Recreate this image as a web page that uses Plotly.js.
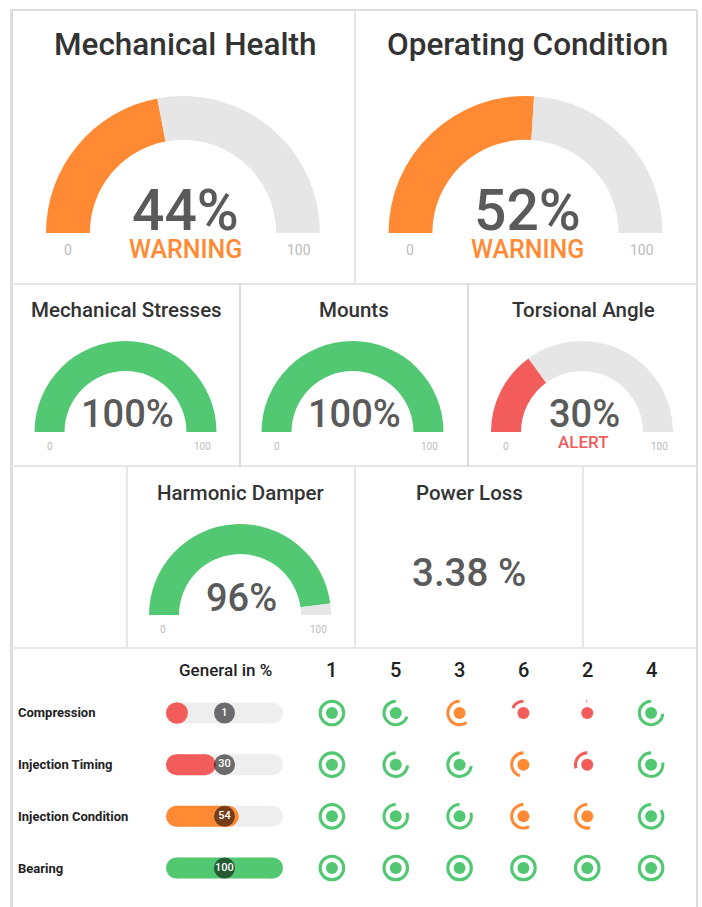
<!DOCTYPE html>
<html>
<head>
<meta charset="utf-8">
<script src="https://cdn.plot.ly/plotly-3.0.1.min.js"></script>
<style>html,body{margin:0;padding:0;background:#fff;}#chart{width:702px;height:907px;}</style>
</head>
<body>
<div id="chart"></div>
<script>
// ---------------- DATA ----------------
const bigTitles = ['Mechanical Health', 'Operating Condition'];
const bigValues = [44, 52];
const midTitles = ['Mechanical Stresses', 'Mounts', 'Torsional Angle'];
const midValues = [100, 100, 30];
const damperTitle = 'Harmonic Damper';
const damperValue = 96;
const powerLossTitle = 'Power Loss';
const powerLossValue = 3.38;

const rowLabels = ['Compression', 'Injection Timing', 'Injection Condition', 'Bearing'];
const generalPct = [1, 30, 54, 100];
const cylinders = ['1', '5', '3', '6', '2', '4'];
const compression = [100, 70, 60, 18, 1, 74];
const injectionTiming = [100, 74, 73, 45, 30, 78];
const injectionCondition = [100, 80, 80, 58, 54, 84];
const bearing = [100, 100, 100, 100, 100, 100];
const cylinderValues = [compression, injectionTiming, injectionCondition, bearing];

// ---------------- STYLE ----------------
const W = 702, H = 907;
const GREEN = '#52c872', ORANGE = '#ff8a33', RED = '#f25c5a', TRACK = '#e6e6e6';
const FONT = 'Roboto, "Open Sans", sans-serif';
const px = x => x / W;
const py = y => 1 - y / H;
function colorFor(v) { return v < 40 ? RED : (v < 65 ? ORANGE : GREEN); }
function statusFor(v) { return v < 40 ? 'ALERT' : (v < 65 ? 'WARNING' : ''); }

const traces = [];
const annotations = [];
function ann(text, x, y, size, color, weight) {
  annotations.push({
    text: text, x: px(x), y: py(y), xref: 'paper', yref: 'paper', showarrow: false,
    xanchor: 'center', yanchor: 'middle', borderpad: 0,
    font: {family: FONT, size: size, color: color, weight: weight || 500}
  });
}

function gauge(cx, cy, R, hole, v) {
  traces.push({
    type: 'pie', values: [v, 100 - v, 100], sort: false, direction: 'clockwise', rotation: 270,
    hole: hole, textinfo: 'none', hoverinfo: 'skip', showlegend: false,
    marker: {colors: [colorFor(v), TRACK, 'rgba(0,0,0,0)'], line: {width: 0}},
    domain: {x: [px(cx - R), px(cx + R)], y: [py(cy + R), py(cy - R)]}
  });
}

// Row 1 big gauges
const bigCx = [183, 525.5];
bigValues.forEach((v, i) => {
  const cx = bigCx[i], cy = 233, R = 137;
  gauge(cx, cy, R, 0.68, v);
  ann(bigTitles[i], cx + 2, 45, 31.5, '#333333');
  ann(v + '%', cx + 2, 210, 57, '#5a5a5a');
  ann(statusFor(v), cx + 2, 249, 25, colorFor(v));
  ann('0', cx - 115, 250, 14, '#bbbbbb', 400);
  ann('100', cx + 116, 250, 14, '#bbbbbb', 400);
});

// Row 2 gauges
const midCx = [125.5, 352.5, 582];
midValues.forEach((v, i) => {
  const cx = midCx[i], cy = 432, R = 91;
  gauge(cx, cy, R, 0.67, v);
  ann(midTitles[i], cx + 1, 310, 20.5, '#333333');
  ann(v + '%', cx + 2, 414, 38, '#5a5a5a');
  if (statusFor(v)) ann(statusFor(v), cx + 1, 442, 17, colorFor(v));
  ann('0', cx - 76, 446, 10, '#bbbbbb', 400);
  ann('100', cx + 77, 446, 10, '#bbbbbb', 400);
});

// Row 3 gauge + number
(function () {
  const cx = 240, cy = 615, R = 91;
  gauge(cx, cy, R, 0.67, damperValue);
  ann(damperTitle, cx, 493, 20.5, '#333333');
  ann(damperValue + '%', cx + 1, 598, 38, '#5a5a5a');
  ann('0', cx - 77, 629, 10, '#bbbbbb', 400);
  ann('100', cx + 78, 629, 10, '#bbbbbb', 400);
  ann(powerLossTitle, 469, 493, 20.5, '#333333');
  ann(powerLossValue.toFixed(2) + ' %', 469, 572, 38.5, '#5a5a5a');
})();

// ---------------- TABLE ----------------
const colX0 = 300, colX1 = 683, rowY0 = 687.15, rowY1 = 893.85;
const nCol = cylinders.length, nRow = rowLabels.length;

// progress track
const trackX = [], trackY = [];
rowLabels.forEach(r => { trackX.push(0, 100, null); trackY.push(r, r, null); });
traces.push({type: 'scatter', mode: 'lines+markers', x: trackX, y: trackY, xaxis: 'x', yaxis: 'y',
  line: {color: '#eeeeee', width: 21}, marker: {color: '#eeeeee', size: 21},
  hoverinfo: 'skip', showlegend: false, cliponaxis: false});
// progress fill
rowLabels.forEach((r, i) => {
  traces.push({type: 'scatter', mode: 'lines+markers', x: [0, generalPct[i]], y: [r, r], xaxis: 'x', yaxis: 'y',
    line: {color: colorFor(generalPct[i]), width: 21}, marker: {color: colorFor(generalPct[i]), size: 21},
    hoverinfo: 'skip', showlegend: false, cliponaxis: false});
});
// knobs
traces.push({type: 'scatter', mode: 'markers+text', x: rowLabels.map(() => 50), y: rowLabels,
  xaxis: 'x', yaxis: 'y', text: generalPct.map(String), textposition: 'middle center',
  textfont: {family: FONT, size: 11, color: '#ffffff', weight: 500},
  marker: {color: 'rgba(0,0,0,0.55)', size: 21}, hoverinfo: 'skip', showlegend: false, cliponaxis: false});

// status dots
const dotX = [], dotY = [], dotC = [];
cylinderValues.forEach((vals, r) => vals.forEach((v, c) => {
  dotX.push(cylinders[c]); dotY.push(rowLabels[r]); dotC.push(colorFor(v));
}));
traces.push({type: 'scatter', mode: 'markers', x: dotX, y: dotY, xaxis: 'x2', yaxis: 'y',
  marker: {color: dotC, size: 12}, hoverinfo: 'skip', showlegend: false, cliponaxis: false});

// status rings (pies): arc runs from 12 o'clock counter-clockwise by the value
const ringR = 13.3;
cylinderValues.forEach((vals, r) => vals.forEach((v, c) => {
  const cx = colX0 + (c + 0.5) * (colX1 - colX0) / nCol;
  const cy = rowY0 + (r + 0.5) * (rowY1 - rowY0) / nRow;
  traces.push({type: 'pie', values: [100 - v, v], sort: false, direction: 'clockwise', rotation: 0,
    hole: 0.77, textinfo: 'none', hoverinfo: 'skip', showlegend: false,
    marker: {colors: ['rgba(0,0,0,0)', colorFor(v)], line: {width: 0}},
    domain: {x: [px(cx - ringR), px(cx + ringR)], y: [py(cy + ringR), py(cy - ringR)]}});
}));

// table texts
ann('General in %', 225, 670, 17, '#222222', 500);
cylinders.forEach((c, i) => {
  annotations.push({text: c, x: i, xref: 'x2', y: py(670), yref: 'paper', showarrow: false,
    xanchor: 'center', yanchor: 'middle', font: {family: FONT, size: 20, color: '#222222', weight: 500}});
});
rowLabels.forEach((r, i) => {
  annotations.push({text: r, x: px(17), xref: 'paper', y: r, yref: 'y', showarrow: false, borderpad: 0,
    xanchor: 'left', yanchor: 'middle', font: {family: FONT, size: 13, color: '#222222', weight: 'bold'}});
});

// ---------------- BORDERS ----------------
const LINE = '#e6e6e6';
function hline(y, x0, x1, c, w) { return {type: 'line', xref: 'paper', yref: 'paper', x0: px(x0), x1: px(x1), y0: py(y), y1: py(y), line: {color: c || LINE, width: w || 2}}; }
function vline(x, y0, y1, c, w) { return {type: 'line', xref: 'paper', yref: 'paper', x0: px(x), x1: px(x), y0: py(y0), y1: py(y1), line: {color: c || LINE, width: w || 2}}; }
const shapes = [
  hline(10, 11, 697, '#dddddd', 2),
  vline(11.5, 10, 910, '#dddddd', 3),
  vline(697, 10, 910, '#dddddd', 2),
  hline(284, 11, 697),
  hline(466, 11, 697),
  hline(648, 11, 697),
  vline(355, 10, 284),
  vline(240, 284, 466, '#cfcfcf', 1.5),
  vline(468, 284, 466, '#cfcfcf', 1.5),
  vline(127, 466, 648),
  vline(355, 466, 648),
  vline(583, 466, 648)
];

const layout = {
  width: W, height: H, margin: {l: 0, r: 0, t: 0, b: 0},
  paper_bgcolor: '#ffffff', plot_bgcolor: 'rgba(0,0,0,0)', showlegend: false,
  font: {family: FONT},
  xaxis: {domain: [px(176.5), px(272.5)], range: [0, 100], visible: false, fixedrange: true, anchor: 'y'},
  xaxis2: {domain: [px(colX0), px(colX1)], type: 'category', categoryarray: cylinders, categoryorder: 'array',
    range: [-0.5, nCol - 0.5], visible: false, fixedrange: true, anchor: 'y'},
  yaxis: {domain: [py(rowY1), py(rowY0)], type: 'category', categoryarray: rowLabels, categoryorder: 'array',
    range: [nRow - 0.5, -0.5], visible: false, fixedrange: true, anchor: 'x'},
  annotations: annotations, shapes: shapes
};

Plotly.newPlot('chart', traces, layout, {displayModeBar: false, staticPlot: true});
</script>
</body>
</html>
